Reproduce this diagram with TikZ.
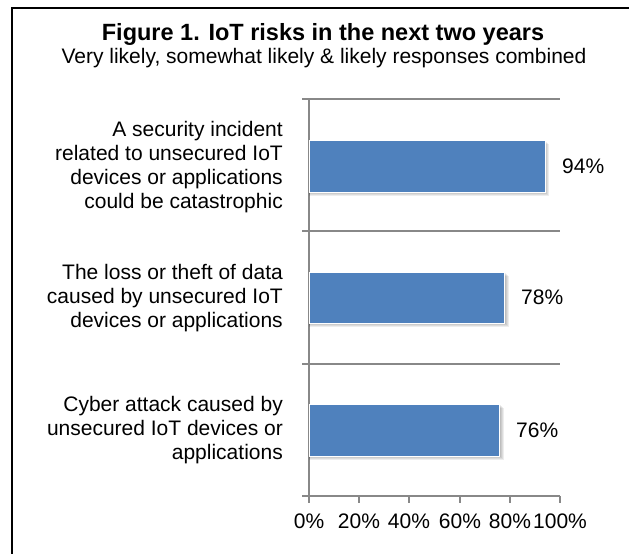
\documentclass[tikz,border=0pt]{standalone}
\usepackage{fontspec}
\setmainfont{Liberation Sans}
\definecolor{barblue}{HTML}{4F81BD}
\definecolor{gridgray}{HTML}{888888}
\begin{document}
\begin{tikzpicture}[x=1pt,y=-1pt,
  lbl/.style={font=\fontsize{21}{24}\selectfont, inner sep=0pt},
  catlbl/.style={lbl, align=right, anchor=east},
  vallbl/.style={lbl, anchor=base west},
  ticklbl/.style={lbl, anchor=base},
  gridln/.style={draw=gridgray, line width=1.6pt},
  barfill/.style={fill=barblue, draw=white, line width=0.8pt},
  barshadow/.style={fill=black, opacity=0.07},
]
\useasboundingbox (0,0) rectangle (629,554);
\fill[white] (0,0) rectangle (629,554);
% frame
\draw[line width=2pt] (12,554) -- (12,8) -- (629,8);
% titles
\node[font=\fontsize{23.5}{26}\selectfont\bfseries, anchor=base, inner sep=0pt] (title) at (323,40) {Figure 1. IoT risks in the next two years};
\node[font=\fontsize{21}{24}\selectfont, anchor=base, inner sep=0pt] (subtitle) at (324,63) {Very likely, somewhat likely \& likely responses combined};
% grid
\foreach \gy in {99,231,364,496} \draw[gridln] (302,\gy) -- (560,\gy);
\draw[gridln] (309,99) -- (309,503);
\foreach \gx in {359,409,460,510,560} \draw[gridln] (\gx,496) -- (\gx,503);
% bars
\foreach \v/\ya/\yb in {0.94/140/192, 0.78/272/323, 0.76/404/456} {
  \pgfmathsetmacro{\xe}{309+251*\v}
  \foreach \s in {1,2,3,4} \fill[barshadow] (309,\ya+\s) rectangle (\xe+\s,\yb+\s);
  \draw[barfill] (309,\ya) rectangle (\xe,\yb);
}
% value labels
\node[vallbl] (v1) at (562,173.5) {94\%};
\node[vallbl] (v2) at (521,304.5) {78\%};
\node[vallbl] (v3) at (516,437.5) {76\%};
% category labels
\node[catlbl] (c1) at (283,167) {A security incident\\related to unsecured IoT\\devices or applications\\could be catastrophic};
\node[catlbl] (c2) at (283,298) {The loss or theft of data\\caused by unsecured IoT\\devices or applications};
\node[catlbl] (c3) at (283,430) {Cyber attack caused by\\unsecured IoT devices or\\applications};
% tick labels
\node[ticklbl] (t0) at (309,528.5) {0\%};
\node[ticklbl] (t1) at (359,528.5) {20\%};
\node[ticklbl] (t2) at (409,528.5) {40\%};
\node[ticklbl] (t3) at (460,528.5) {60\%};
\node[ticklbl] (t4) at (510,528.5) {80\%};
\node[ticklbl] (t5) at (560,528.5) {100\%};
\end{tikzpicture}
\end{document}
